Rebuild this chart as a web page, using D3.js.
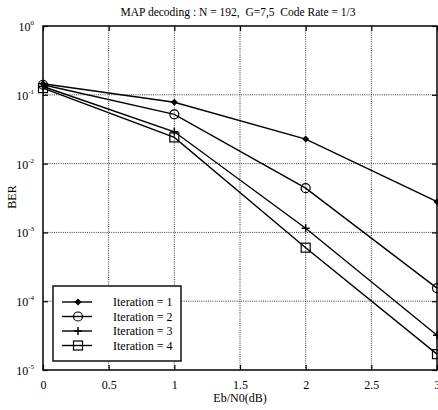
<!DOCTYPE html>
<html>
<head>
<meta charset="utf-8">
<script src="https://cdn.jsdelivr.net/npm/d3@7"></script>
<style>
  body { margin: 0; background: #fff; }
  text { font-family: "Liberation Serif", "Times New Roman", serif; fill: #000; white-space: pre; }
</style>
</head>
<body>
<div id="chart"></div>
<script>
// data
const ebn0 = [0, 1, 2, 3];
const iter1 = [0.145, 0.078, 0.0227, 0.0028];
const iter2 = [0.14, 0.052, 0.0044, 0.000155];
const iter3 = [0.132, 0.029, 0.00115, 0.000032];
const iter4 = [0.125, 0.024, 0.0006, 0.000017];
const seriesNames = ["Iteration = 1", "Iteration = 2", "Iteration = 3", "Iteration = 4"];
const xTicks = [0, 0.5, 1, 1.5, 2, 2.5, 3];
const yTicks = [1, 1e-1, 1e-2, 1e-3, 1e-4, 1e-5];

const W = 438, H = 410;
const margin = { top: 26, right: 1, bottom: 40, left: 43 };
const width = W - margin.left - margin.right,
  height = H - margin.top - margin.bottom;

const svg = d3.select("#chart").append("svg")
  .attr("width", W).attr("height", H);

const g = svg.append("g")
  .attr("transform", `translate(${margin.left},${margin.top})`);

const x = d3.scaleLinear().domain([0, 3]).range([0, width]);
const y = d3.scaleLog().domain([1e-5, 1]).range([height, 0]);

// grid (dotted)
g.append("g").selectAll("line").data(xTicks.slice(1, -1)).join("line")
  .attr("x1", d => x(d)).attr("x2", d => x(d))
  .attr("y1", 0).attr("y2", height)
  .attr("stroke", "#222").attr("stroke-width", 0.9).attr("stroke-dasharray", "1,1.2");
g.append("g").selectAll("line").data(yTicks.slice(1, -1)).join("line")
  .attr("x1", 0).attr("x2", width)
  .attr("y1", d => y(d)).attr("y2", d => y(d))
  .attr("stroke", "#222").attr("stroke-width", 0.9).attr("stroke-dasharray", "1,1.2");

// axes, ticks pointing inward
const xAxis = g.append("g").attr("transform", `translate(0,${height})`)
  .call(d3.axisBottom(x).tickValues(xTicks).tickSize(-5).tickPadding(10).tickFormat(d3.format("")));
xAxis.select(".domain").remove();
xAxis.selectAll("text").attr("font-size", 12);

const yAxis = g.append("g")
  .call(d3.axisLeft(y).tickValues(yTicks).tickSize(-5).tickFormat(""));
yAxis.select(".domain").remove();

g.append("g").attr("transform", `translate(${width},0)`)
  .call(d3.axisRight(y).tickValues(yTicks).tickSize(-5).tickFormat(""))
  .select(".domain").remove();
g.append("g")
  .call(d3.axisTop(x).tickValues(xTicks).tickSize(-5).tickFormat(""))
  .select(".domain").remove();

g.selectAll(".tick line").attr("stroke", "#000").attr("stroke-width", 1.2);

// y tick labels 10^n
const yl = g.append("g").selectAll("text").data(yTicks).join("text")
  .attr("x", -9).attr("y", d => y(d) + 5)
  .attr("text-anchor", "end").attr("font-size", 12);
yl.append("tspan").text("10");
yl.append("tspan").attr("dy", -6).attr("font-size", 7)
  .text(d => Math.round(Math.log10(d)) === 0 ? "0" : "-" + Math.abs(Math.round(Math.log10(d))));

// frame
g.append("rect").attr("width", width).attr("height", height)
  .attr("fill", "none").attr("stroke", "#000").attr("stroke-width", 1.5);

// series
const all = [iter1, iter2, iter3, iter4];
const line = d3.line().x((d, i) => x(ebn0[i])).y(d => y(d));

all.forEach(vals => {
  g.append("path").datum(vals).attr("d", line)
    .attr("fill", "none").attr("stroke", "#000").attr("stroke-width", 1.4);
});

function marker(sel, k, cx, cy) {
  if (k === 0) {
    sel.append("path").attr("d", `M${cx},${cy - 3.5}L${cx + 3.5},${cy}L${cx},${cy + 3.5}L${cx - 3.5},${cy}Z`)
      .attr("fill", "#000");
  } else if (k === 1) {
    sel.append("circle").attr("cx", cx).attr("cy", cy).attr("r", 4.5)
      .attr("fill", "none").attr("stroke", "#000").attr("stroke-width", 1.2);
  } else if (k === 2) {
    sel.append("path").attr("d", `M${cx - 4},${cy}H${cx + 4}M${cx},${cy - 4}V${cy + 4}`)
      .attr("stroke", "#000").attr("stroke-width", 1.5);
  } else {
    sel.append("rect").attr("x", cx - 4.5).attr("y", cy - 4.5).attr("width", 9).attr("height", 9)
      .attr("fill", "none").attr("stroke", "#000").attr("stroke-width", 1.2);
  }
}

all.forEach((vals, k) => {
  const mg = g.append("g");
  vals.forEach((v, i) => marker(mg, k, x(ebn0[i]), y(v)));
});

// legend
const lg = svg.append("g").attr("transform", "translate(53,286)");
lg.append("rect").attr("width", 128).attr("height", 75)
  .attr("fill", "#fff").attr("stroke", "#000").attr("stroke-width", 1.4);
seriesNames.forEach((name, k) => {
  const ly = 16 + k * 14.5;
  lg.append("line").attr("x1", 9).attr("x2", 39).attr("y1", ly).attr("y2", ly)
    .attr("stroke", "#000").attr("stroke-width", 1.4);
  marker(lg, k, 25, ly);
  lg.append("text").attr("x", 60).attr("y", ly + 4).attr("font-size", 12).text(name);
});

// title and labels
svg.append("text").attr("x", 238).attr("y", 16).attr("text-anchor", "middle")
  .attr("font-size", 11.5).text("MAP decoding : N = 192,  G=7,5  Code Rate = 1/3");
svg.append("text").attr("x", 240).attr("y", 402).attr("text-anchor", "middle")
  .attr("font-size", 12).text("Eb/N0(dB)");
svg.append("text").attr("transform", "translate(16,197) rotate(-90)")
  .attr("text-anchor", "middle").attr("font-size", 12).text("BER");
</script>
</body>
</html>
